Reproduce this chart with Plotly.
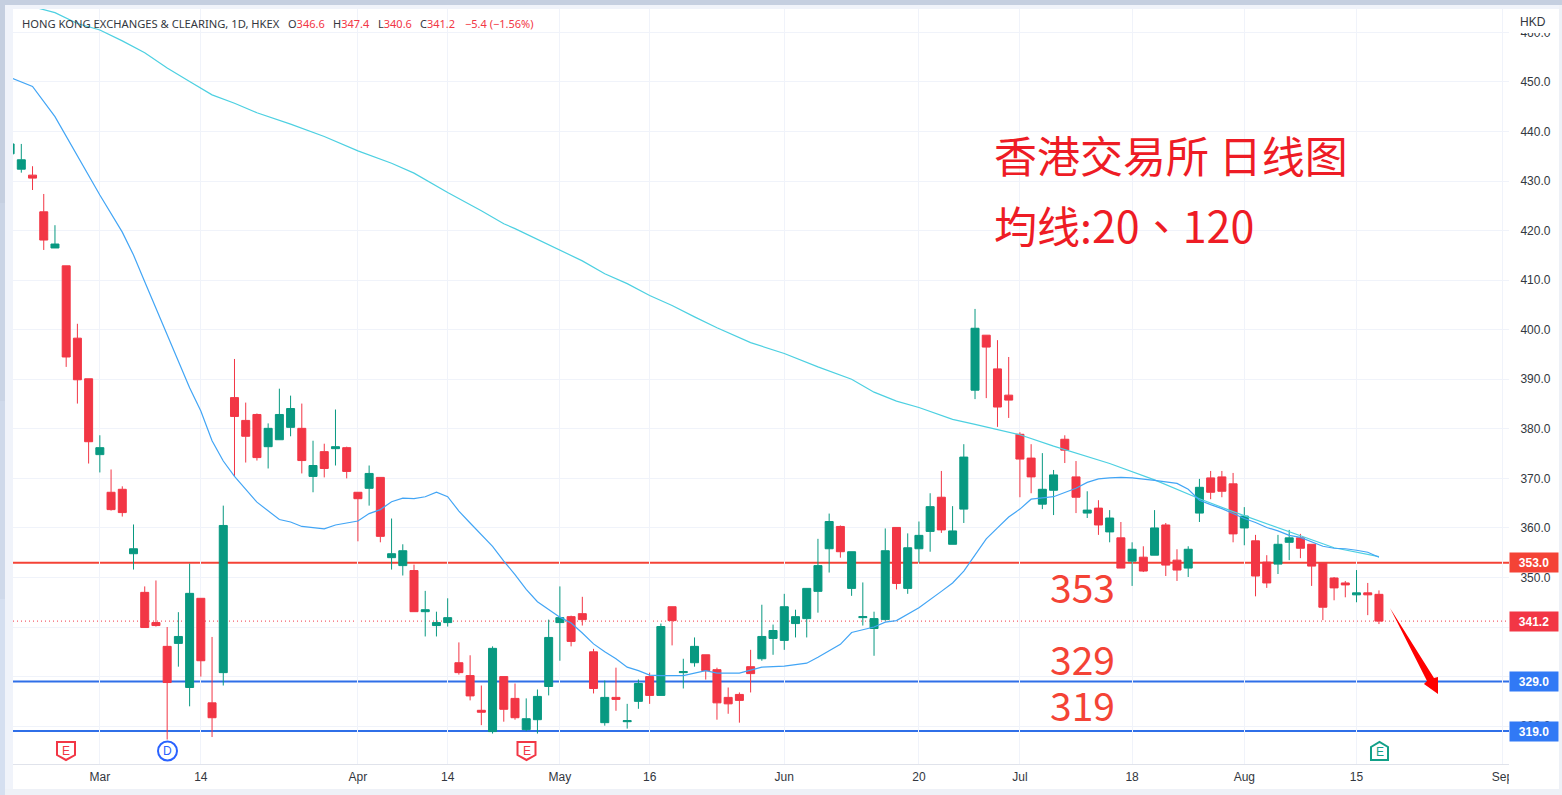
import plotly.graph_objects as go

bar_index = list(range(-1, 122))
opens = [435.5,432.4,431.2,423.8,416.5,412.9,398.3,390.1,374.8,367.2,
367.8,354.8,347.0,340.9,336.1,336.7,327.8,345.8,324.7,330.8,
386.3,381.7,382.9,376.4,377.8,380.3,380.1,370.4,375.4,376.0,
376.2,367.2,368.0,370.2,354.0,352.4,351.4,343.1,340.3,340.9,
332.8,330.2,323.2,318.9,330.0,325.6,319.3,321.3,328.0,340.9,
342.1,342.7,335.0,320.7,325.8,320.9,325.0,330.0,326.2,344.1,
330.8,332.8,334.4,331.4,325.8,326.4,332.0,333.6,337.7,337.3,
340.7,341.7,347.2,355.8,360.3,347.8,341.9,339.7,341.5,360.1,
347.8,355.8,359.3,366.2,356.7,363.8,387.8,398.9,392.1,386.8,
378.9,374.1,364.8,367.6,377.9,370.3,363.0,364.0,359.2,358.0,
353.3,354.1,354.5,360.6,353.5,351.9,363.0,370.1,370.3,368.9,
360.0,357.4,353.1,352.7,357.1,358.0,356.7,352.9,349.9,348.9,
346.5,346.9,346.6]
highs = [437.5,437.5,433.0,427.4,421.1,412.9,401.2,390.1,378.7,371.8,
368.4,360.7,348.2,349.4,340.0,343.0,352.8,345.8,338.0,364.5,
394.1,385.3,383.1,381.1,388.1,386.7,385.1,377.6,377.0,383.9,
376.4,367.2,372.6,370.2,361.9,356.7,352.6,347.3,343.1,345.8,
336.9,334.3,328.2,336.1,330.0,328.6,325.6,327.4,341.5,348.2,
342.3,346.1,335.6,329.2,331.8,324.5,329.4,330.8,340.7,344.1,
333.6,337.9,334.4,331.8,327.8,326.8,335.4,344.5,340.5,346.7,
343.5,347.8,357.8,362.9,360.5,355.2,349.0,343.1,359.9,360.1,
358.9,361.3,367.0,371.5,364.4,376.9,404.2,398.9,397.9,394.5,
379.3,376.9,375.1,371.7,378.7,373.5,367.4,365.6,363.6,361.2,
357.1,356.3,363.6,361.0,355.7,356.3,369.9,371.5,371.5,371.1,
364.2,358.6,354.5,358.6,359.6,358.8,356.7,352.9,350.1,349.3,
351.5,348.9,347.4]
lows = [435.5,431.7,428.2,416.1,416.5,392.5,385.1,373.0,371.2,363.5,
362.3,351.6,339.9,340.1,317.3,332.0,324.0,330.0,317.8,328.2,
370.4,373.2,373.6,372.0,377.8,378.5,371.0,367.2,370.2,372.6,
370.0,357.3,364.5,357.1,351.6,350.4,343.1,338.1,338.1,340.1,
330.4,325.2,320.2,318.5,320.9,321.3,319.0,318.5,326.2,333.2,
336.1,340.3,326.6,320.1,323.1,319.5,323.5,324.5,326.2,336.3,
327.6,332.0,329.4,321.3,322.5,320.7,326.8,333.2,334.4,335.4,
337.9,337.9,342.9,351.0,354.0,346.3,340.3,334.2,341.3,347.6,
346.7,353.0,355.2,359.0,356.7,361.0,386.0,386.2,380.4,382.2,
366.2,367.0,363.8,362.6,373.1,363.0,362.0,358.6,357.1,351.9,
348.3,351.1,354.5,350.3,349.3,350.1,361.2,365.8,366.2,357.1,
356.5,346.2,347.9,350.7,353.5,353.9,348.3,341.4,345.4,346.0,
345.0,342.4,340.6]
closes = [437.5,434.3,430.6,418.1,417.3,394.5,389.9,377.4,376.2,363.7,
363.1,355.8,339.9,340.3,328.8,338.1,346.8,333.2,321.7,360.5,
382.5,378.5,374.2,380.1,382.9,384.1,373.6,372.6,372.0,376.4,
371.4,365.9,371.0,358.3,354.8,355.4,343.1,343.5,340.9,341.9,
330.8,326.1,322.8,335.7,323.4,321.7,321.5,326.0,337.9,341.9,
337.1,341.5,327.6,325.8,325.4,321.1,328.6,326.2,340.1,341.3,
331.0,336.1,331.2,324.7,324.5,325.2,330.6,338.1,339.3,344.1,
342.1,347.8,352.4,361.3,355.2,355.2,342.1,341.7,355.4,348.8,
356.0,358.5,364.3,359.6,359.4,374.3,400.3,396.5,384.4,385.8,
373.9,370.3,367.8,370.7,375.7,366.2,363.6,360.6,362.0,351.9,
355.7,351.3,360.0,352.5,351.5,355.7,368.2,367.2,367.4,358.8,
362.4,350.3,348.9,356.7,358.0,355.9,352.3,344.0,347.9,348.5,
346.9,346.5,341.2]

ma20_index = [-1,1,3,4,5,7,9,10,11,12,14,15,16,17,18,19,21,23,24,25,27,28,30,31,32,33,34,35,36,37,38,39,40,42,43,44,45,46,48,49,50,51,52,53,54,55,56,57,59,61,62,64,66,68,70,71,73,74,76,77,78,80,82,83,84,85,86,87,88,89,90,92,93,94,95,96,97,98,99,100,101,102,103,104,105,106,107,108,109,110,111,112,113,114,115,116,117,118,119,120,121]
ma20_values = [450.9,449.1,443.0,439.0,435.3,427.2,419.7,415.1,409.7,404.3,393.6,388.3,383.6,377.6,373.5,370.4,365.2,361.7,361.2,360.3,359.8,360.6,361.4,362.9,363.7,365.3,366.0,365.9,366.3,367.2,366.3,363.4,361.0,356.3,353.3,350.6,347.6,345.1,342.0,340.8,338.8,336.6,335.0,333.6,331.9,331.2,330.3,330.2,330.2,331.2,330.7,330.7,331.9,332.1,332.7,333.9,336.5,338.9,340.0,341.0,341.3,343.9,347.2,348.9,351.3,354.6,357.8,360.0,362.2,363.8,365.8,366.3,367.2,368.0,369.2,369.9,370.1,370.2,370.1,369.9,369.6,369.3,369.0,367.8,365.6,364.7,363.9,362.9,361.9,361.1,360.1,359.4,358.5,358.1,357.2,356.3,355.9,355.8,355.5,355.1,354.1]
ma120_index = [-1,1,3,5,7,9,11,13,15,17,19,21,24,27,30,33,35,38,41,43,44,46,48,50,52,54,56,58,60,62,65,68,71,74,76,78,80,83,85,89,92,97,101,105,108,113,117,121]
ma120_values = [467.0,465.2,464.0,461.8,460.5,458.3,455.9,452.8,450.1,447.4,445.7,443.8,441.5,439.0,436.1,433.6,431.6,427.7,424.0,421.4,420.4,418.2,416.0,413.9,411.3,409.3,406.9,404.9,402.6,400.4,397.4,395.2,392.5,390.0,387.4,385.6,384.3,381.9,380.9,378.8,376.5,373.0,369.7,365.9,363.3,359.2,356.0,354.2]

x_tick_index = [7,16,30,38,48,56,68,80,89,99,109,119,132]
x_tick_labels = ["Mar","14","Apr","14","May","16","Jun","20","Jul","18","Aug","15","Sep"]
y_ticks = [320,330,340,350,360,370,380,390,400,410,420,430,440,450,460]

level_values = [353.0, 329.0, 319.0]
level_colors = ["#f44336", "#2f6fe8", "#2f6fe8"]
level_notes = ["353", "329", "319"]
last_price = 341.2

RED, GREEN, BLUE = "#f23645", "#089981", "#2962ff"
L, R, T, B = 13, 1509, 9, 764
FONT = "Liberation Sans"
def fx(px): return (px - L) / (R - L)
def fy(py): return 1 - (py - T) / (B - T)
def path(pts):
    return "M" + " L".join(f"{fx(a):.5f},{fy(b):.5f}" for a, b in pts) + " Z"

shapes, ann = [], []
def rect(x0, y0, x1, y1, color, layer="below"):
    shapes.append(dict(type="rect", xref="paper", yref="paper", x0=fx(x0), x1=fx(x1),
                       y0=fy(y0), y1=fy(y1), fillcolor=color, line_width=0, layer=layer))
def text(px, py, s, size=12, color="#131722", anchor="left", family=FONT):
    ann.append(dict(xref="paper", yref="paper", x=fx(px), y=fy(py), text=s, showarrow=False,
                    xanchor=anchor, yanchor="middle", font=dict(size=size, color=color, family=family),
                    borderpad=0, xshift=0))

# outer page frame
rect(0, 0, 1562, 5, "#c5cfe0")
rect(0, 5, 1562, 9, "#f0f3fa")
rect(5, 5, 13, 795, "#f0f3fa")
rect(1559, 5, 1562, 795, "#eef1f7")
rect(5, 789, 1562, 795, "#eef1f7")
for k, c in enumerate(["#c5cfe0", "#cad4e5", "#cfd9ea", "#d5dff0"]):
    rect(0, 5 + k * 198, 5, 5 + (k + 1) * 198, c)

# levels and last-price line, beneath the candles
for v, c in zip(level_values, level_colors):
    shapes.append(dict(type="line", xref="paper", yref="y", x0=0, x1=1, y0=v, y1=v,
                       line=dict(color=c, width=2), layer="between"))
shapes.append(dict(type="line", xref="paper", yref="y", x0=0, x1=1, y0=last_price, y1=last_price,
                   line=dict(color=RED, width=1, dash="1px 3px"), layer="between"))

# clip of the axis strip
rect(1509, 9, 1559, 33, "#ffffff", "above")
rect(1509, 765, 1559, 789, "#ffffff", "above")

# arrow
shapes.append(dict(type="path", xref="paper", yref="paper", layer="above", line_width=0, fillcolor="#ff0000",
                   path=path([(1390,608),(1434,678),(1438,677),(1438,694),(1424,684),(1427,681)])))

# event markers
def shield(x0, col):
    return dict(type="path", xref="paper", yref="paper", layer="above", fillcolor="#ffffff",
                line=dict(color=col, width=2),
                path=path([(x0,742),(x0+18,742),(x0+18,755),(x0+9,760),(x0,755)]))
shapes.append(shield(57, RED)); text(66, 751, "E", 12, RED, "center")
shapes.append(shield(517.5, RED)); text(526.5, 751, "E", 12, RED, "center")
shapes.append(dict(type="path", xref="paper", yref="paper", layer="above", fillcolor="#ffffff",
                   line=dict(color="#12a088", width=2),
                   path=path([(1371,747),(1379.5,742),(1388,747),(1388,760),(1371,760)])))
text(1379.5, 752, "E", 12, "#12a088", "center")
shapes.append(dict(type="circle", xref="paper", yref="paper", layer="above", fillcolor="#ffffff",
                   line=dict(color=BLUE, width=2), x0=fx(158), x1=fx(177), y0=fy(760.5), y1=fy(741.5)))
text(167.5, 751, "D", 12, BLUE, "center")

# header
text(21, 24, "HONG KONG EXCHANGES &amp; CLEARING, 1D, HKEX", 11.2, "#333740", family="Noto Sans")
for px, k, v in [(287, "O", "346.6"), (332, "H", "347.4"), (377, "L", "340.6"), (419, "C", "341.2")]:
    text(px, 24, f'{k}<span style="color:{RED}">{v}</span>', 11, "#333740", family="Noto Sans")
text(464, 24, "−5.4 (−1.56%)", 11, RED, family="Noto Sans")
text(1519, 22, "HKD", 12, "#333740")

# big notes
CJK = "Noto Sans CJK TC"
text(993, 154, "香港交易所 日线图", 43, "#ee1c25", family=CJK)
text(993, 224, "均线:20、120", 43, "#ee1c25", family=CJK)
for py, s in zip([586, 658, 704], level_notes):
    text(1049, py, s, 39, "#f44336", family=CJK)

# price labels
for v, c in zip(level_values + [last_price], ["#f44336", "#3179f5", "#3179f5", RED]):
    ann.append(dict(xref="paper", yref="y", x=1.0, y=v, text=f"<b>{v:.1f}</b>", showarrow=False,
                    xanchor="left", yanchor="middle", width=46, height=17, bgcolor=c, align="center",
                    font=dict(size=12, color="#ffffff", family=FONT)))

fig = go.Figure()
fig.add_trace(go.Candlestick(x=bar_index, open=opens, high=highs, low=lows, close=closes,
    increasing=dict(line=dict(color=GREEN, width=1), fillcolor=GREEN),
    decreasing=dict(line=dict(color=RED, width=1), fillcolor=RED),
    whiskerwidth=0, showlegend=False))
fig.add_trace(go.Scatter(x=ma120_index, y=ma120_values, mode="lines", showlegend=False,
                         line=dict(color="#4dd0e1", width=1.2), hoverinfo="skip"))
fig.add_trace(go.Scatter(x=ma20_index, y=ma20_values, mode="lines", showlegend=False,
                         line=dict(color="#42a5f5", width=1.2), hoverinfo="skip"))

fig.update_layout(
    width=1562, height=795, margin=dict(l=L, r=1562-R, t=T, b=795-B, autoexpand=False),
    paper_bgcolor="#ffffff", plot_bgcolor="#ffffff", boxgap=0.25, boxgroupgap=0.05, showlegend=False,
    shapes=shapes, annotations=ann,
    xaxis=dict(range=[-0.74, 132.59], rangeslider=dict(visible=False), tickmode="array",
               tickvals=x_tick_index, ticktext=x_tick_labels, showgrid=True, gridcolor="#f0f3fa", gridwidth=1,
               zeroline=False, showline=True, linecolor="#e0e3eb", ticks="outside", ticklen=2,
               tickcolor="rgba(0,0,0,0)", tickfont=dict(family=FONT, size=12, color="#333740")),
    yaxis=dict(range=[312.36, 464.73], side="right", tickmode="array", tickvals=y_ticks,
               ticktext=[f"{v:.1f}" for v in y_ticks], showgrid=True, gridcolor="#f0f3fa", gridwidth=1,
               zeroline=False, showline=False, ticks="outside", ticklen=8, tickcolor="rgba(0,0,0,0)",
               tickfont=dict(family=FONT, size=12, color="#333740")),
)
fig.write_html("out.html", config=dict(displayModeBar=False),
               post_script="document.body.style.margin='0';document.documentElement.style.overflow='hidden';")
